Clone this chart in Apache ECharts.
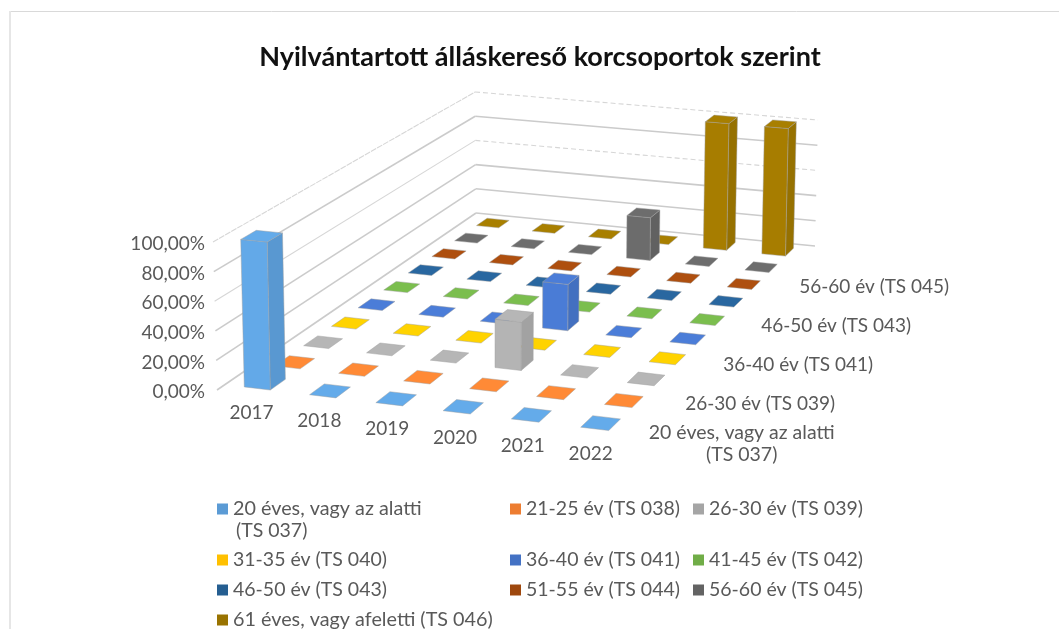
<!DOCTYPE html>
<html><head><meta charset="utf-8">
<style>html,body{margin:0;padding:0;background:#fff}#c{position:absolute;left:0;top:0;width:1059px;height:629px}</style>
<script src="https://cdn.jsdelivr.net/npm/echarts@6/dist/echarts.min.js"></script></head>
<body><div id="c"></div>
<script>
const titleText = 'Nyilvántartott álláskereső korcsoportok szerint';
const years = ['2017','2018','2019','2020','2021','2022'];
const ageGroups = ['20 éves, vagy az alatti (TS 037)','21-25 év (TS 038)','26-30 év (TS 039)','31-35 év (TS 040)','36-40 év (TS 041)','41-45 év (TS 042)','46-50 év (TS 043)','51-55 év (TS 044)','56-60 év (TS 045)','61 éves, vagy afeletti (TS 046)'];
const valueTicks = [0,20,40,60,80,100];
const s037 = [100,0,0,0,0,0];
const s038 = [0,0,0,0,0,0];
const s039 = [0,0,0,33.33,0,0];
const s040 = [0,0,0,0,0,0];
const s041 = [0,0,0,33.33,0,0];
const s042 = [0,0,0,0,0,0];
const s043 = [0,0,0,0,0,0];
const s044 = [0,0,0,0,0,0];
const s045 = [0,0,0,33.33,0,0];
const s046 = [0,0,0,0,100,100];
const allSeries = [s037,s038,s039,s040,s041,s042,s043,s044,s045,s046];
const colors = ['#5B9BD5','#ED7D31','#A5A5A5','#FFC000','#4472C4','#70AD47','#255E91','#9E480E','#636363','#997300'];

// Camera: where the chart box's floor and top corners land on the page
const floorQuad = [[217,390],[624,439],[815,246],[476,213]];
const topQuad = [[213,242],[626,283],[818,120],[475,92]];
function homography(q){
  const [[x0,y0],[x1,y1],[x2,y2],[x3,y3]] = q;
  const dx1=x1-x2,dx2=x3-x2,sx=x0-x1+x2-x3,dy1=y1-y2,dy2=y3-y2,sy=y0-y1+y2-y3;
  const det=dx1*dy2-dx2*dy1, g=(sx*dy2-dx2*sy)/det, h=(dx1*sy-sx*dy1)/det;
  const a=x1-x0+g*x1,b=x3-x0+h*x3,d=y1-y0+g*y1,e=y3-y0+h*y3;
  return (s,t)=>{const w=g*s+h*t+1;return [(a*s+b*t+x0)/w,(d*s+e*t+y0)/w];};
}
const H0=homography(floorQuad), H1=homography(topQuad);
const vMax=100;
function projector(params,api){
  const r=params.coordSys;
  return (u,w,v)=>{
    const c=api.coord([u,w]);
    const s=(c[0]-r.x)/r.width, t=1-(c[1]-r.y)/r.height;
    const a=H0(s,t), b=H1(s,t), k=v/vMax;
    return [a[0]+(b[0]-a[0])*k, a[1]+(b[1]-a[1])*k];
  };
}
function shade(hex,f){
  const n=parseInt(hex.slice(1),16);
  const c=[n>>16,(n>>8)&255,n&255].map(x=>Math.min(255,Math.round(x*f)));
  return 'rgb('+c.join(',')+')';
}
const halfW=0.2, halfD=0.25, rim='rgba(160,160,160,0.45)';
function poly(points,fill){
  return {type:'polygon',shape:{points},style:{fill,stroke:rim,lineWidth:1,lineJoin:'round'}};
}
function barItem(j){
  return (params,api)=>{
    const P=projector(params,api);
    const u=api.value(0)+0.5, w=api.value(1)+0.5, v=api.value(2), col=colors[j];
    const u0=u-halfW,u1=u+halfW,w0=w-halfD,w1=w+halfD;
    const children=[];
    if(v>0){
      children.push(poly([P(u1,w0,0),P(u1,w1,0),P(u1,w1,v),P(u1,w0,v)],shade(col,0.98)));
      children.push(poly([P(u0,w0,0),P(u1,w0,0),P(u1,w0,v),P(u0,w0,v)],shade(col,1.09)));
    }
    children.push(poly([P(u0,w0,v),P(u1,w0,v),P(u1,w1,v),P(u0,w1,v)],shade(col,1.1)));
    return {type:'group',children};
  };
}
const txt='#595959', font='Lato, Carlito, sans-serif', labelFont='19px '+font;
function wallItem(params,api){
  const P=projector(params,api), v=api.value(0);
  const faint=(v===100||v===60);
  const a=P(0,0,v),b=P(0,10,v),c=P(6,10,v);
  const ln=(p,q,dash)=>({type:'line',shape:{x1:p[0],y1:p[1],x2:q[0],y2:q[1]},style:{stroke:faint?'#d6d6d6':'#cbcbcb',lineWidth:faint?1.1:1.6,lineDash:dash}});
  return {type:'group',children:[ln(a,b,faint&&v===100?[6,1]:null),ln(b,c,faint?[5,3]:null)]};
}
function valueLabelItem(params,api){
  const P=projector(params,api), v=api.value(0), p=P(0,0,v);
  return {type:'text',x:205,y:p[1]+2,style:{text:v.toFixed(2).replace('.',',')+'%',fill:txt,font:labelFont,textAlign:'right',textVerticalAlign:'middle'}};
}
function yearLabelItem(params,api){
  const P=projector(params,api), i=api.value(0), a=P(0.5,0,0), b=P(years.length-0.5,0,0), k=i/(years.length-1);
  return {type:'text',x:a[0]+2+(b[0]-a[0])*k,y:a[1]+19+(b[1]-a[1])*k,style:{text:years[i],fill:txt,font:labelFont,textAlign:'center',textVerticalAlign:'middle'}};
}
function depthLabelItem(params,api){
  const P=projector(params,api), j=api.value(0), p=P(6,j+0.5,0), last=P(6,8.5,0);
  if(j===0){
    return {type:'text',x:p[0]+106,y:p[1]+17,style:{text:ageGroups[j].replace(' (','\n('),fill:txt,font:'19.5px '+font,lineHeight:22,textAlign:'center',textVerticalAlign:'middle'}};
  }
  return {type:'text',x:last[0]+8+(j-8)*19,y:last[1]+17+(8-j)*19.5,style:{text:ageGroups[j],fill:txt,font:labelFont,textAlign:'left',textVerticalAlign:'middle'}};
}
const series=[{type:'custom',name:'_wall',silent:true,z:1,renderItem:wallItem,coordinateSystem:'cartesian2d',data:valueTicks.map(v=>[v]),encode:{x:0},animation:false,clip:false}];
allSeries.forEach((vals,j)=>{
  series.push({type:'custom',name:ageGroups[j],silent:true,z:30-j,coordinateSystem:'cartesian2d',renderItem:barItem(j),
    itemStyle:{color:colors[j]},animation:false,clip:false,
    encode:{x:0,y:1},data:vals.map((v,i)=>[i,j,v])});
});
series.push({type:'custom',name:'_vlab',silent:true,z:40,renderItem:valueLabelItem,coordinateSystem:'cartesian2d',data:valueTicks.map(v=>[v]),encode:{x:0},animation:false,clip:false});
series.push({type:'custom',name:'_ylab',silent:true,z:40,renderItem:yearLabelItem,coordinateSystem:'cartesian2d',data:years.map((y,i)=>[i]),encode:{x:0},animation:false,clip:false});
series.push({type:'custom',name:'_dlab',silent:true,z:40,renderItem:depthLabelItem,coordinateSystem:'cartesian2d',data:[0,2,4,6,8].map(j=>[j]),encode:{x:0},animation:false,clip:false});

const colX=[217,510,693], rowY=[498,549,579,609];
const legendCells=[[0,0],[1,0],[2,0],[0,1],[1,1],[2,1],[0,2],[1,2],[2,2],[0,3]];
const legends=ageGroups.map((name,k)=>({
  data:[name],left:colX[legendCells[k][0]],top:rowY[legendCells[k][1]],orient:'horizontal',padding:0,
  icon:'rect',itemWidth:11,itemHeight:11,itemGap:legendCells[k][0]===0?10:8,selectedMode:false,
  formatter:n=>k===0?n.split(' (')[0]:n,
  textStyle:{color:txt,fontFamily:font,fontSize:(legendCells[k][0]===0&&legendCells[k][1]!==1&&legendCells[k][1]!==2)?19.8:19.5,lineHeight:22}
}));
const chart=echarts.init(document.getElementById('c'),null,{renderer:'canvas',width:1059,height:629});
chart.setOption({
  animation:false,backgroundColor:'#fff',
  title:{text:titleText,left:535,top:39,textAlign:'center',textStyle:{color:'#111',fontFamily:font,fontWeight:'bold',fontSize:27}},
  grid:{left:100,right:100,top:100,bottom:100},
  xAxis:{type:'value',min:0,max:6,show:false},
  yAxis:{type:'value',min:0,max:10,show:false},
  legend:legends,
  series,
  graphic:[
    {type:'text',silent:true,x:236,y:531,style:{text:'('+ageGroups[0].split(' (')[1],fill:txt,font:'19.5px '+font,textVerticalAlign:'middle'}},
    {type:'line',silent:true,shape:{x1:9,y1:11.5,x2:1059,y2:11.5},style:{stroke:'#d9d9d9',lineWidth:1}},
    {type:'line',silent:true,shape:{x1:10,y1:11,x2:10,y2:629},style:{stroke:'#e6e6e6',lineWidth:2}}
  ]
});
</script></body></html>
